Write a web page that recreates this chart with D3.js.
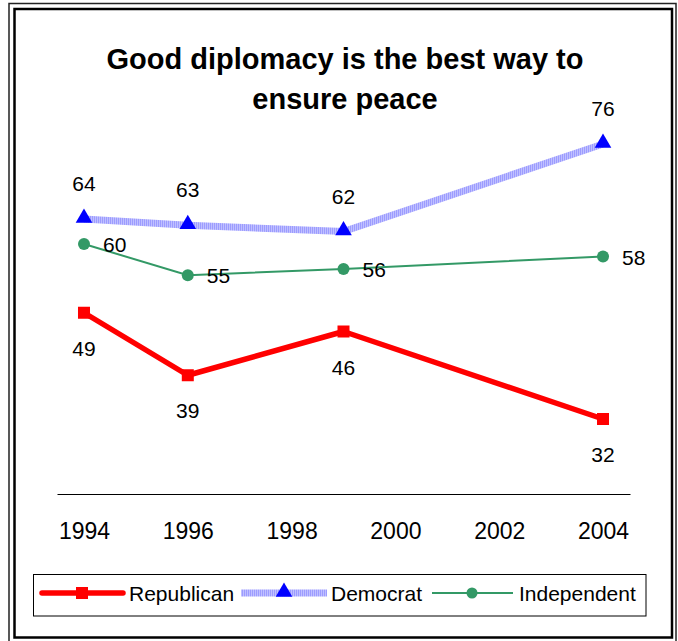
<!DOCTYPE html>
<html><head><meta charset="utf-8">
<script src="https://cdn.jsdelivr.net/npm/d3@7"></script>
<style>html,body{margin:0;padding:0;background:#fff;}svg{display:block;font-family:"Liberation Sans",Arial,sans-serif;}</style>
</head><body>
<script>
const years = [1994, 1996, 1999, 2004];
const republican = [49, 39, 46, 32];
const democrat = [64, 63, 62, 76];
const independent = [60, 55, 56, 58];
const tickYears = [1994, 1996, 1998, 2000, 2002, 2004];
const seriesNames = ["Republican", "Democrat", "Independent"];
const titleLines = ["Good diplomacy is the best way to", "ensure peace"];

const W = 678, H = 641;
const svg = d3.select("body").append("svg").attr("width", W).attr("height", H);

const defs = svg.append("defs");
const pat = defs.append("pattern").attr("id","demPat").attr("patternUnits","userSpaceOnUse").attr("width",2).attr("height",2);
pat.append("rect").attr("width",2).attr("height",2).attr("fill","#c0c0ff");
pat.append("rect").attr("width",1).attr("height",2).attr("fill","#9c9cff");

// frame
svg.append("rect").attr("x",9).attr("y",3.5).attr("width",667).attr("height",645).attr("fill","none").attr("stroke","#222").attr("stroke-width",1.5);
svg.append("rect").attr("x",14.5).attr("y",9).attr("width",657.5).attr("height",628.5).attr("fill","none").attr("stroke","#000").attr("stroke-width",2.5);

// title
svg.append("g").selectAll("text").data(titleLines).join("text")
  .attr("x",345).attr("y",(d,i)=>69+i*40).attr("text-anchor","middle")
  .attr("font-weight","bold").attr("font-size",29).attr("fill","#000").text(d=>d);

const x = d3.scaleLinear().domain([1993.48, 2004.52]).range([57, 630]);
const y = d3.scaleLinear().domain([20, 80]).range([494, 119]);

const ax = svg.append("g").attr("transform","translate(0,494)")
  .call(d3.axisBottom(x).tickValues(tickYears).tickFormat(d3.format("d")).tickSize(0).tickPadding(29));
ax.select(".domain").attr("stroke","#000").attr("stroke-width",1);
ax.selectAll("text").attr("font-size",23).attr("font-family","Liberation Sans, Arial, sans-serif").attr("fill","#000");

const line = d3.line().x(d=>x(d[0])).y(d=>y(d[1]));
const mk = arr => years.map((yr,i)=>[yr,arr[i]]);

svg.append("path").datum(mk(democrat)).attr("d",line).attr("fill","none").attr("stroke","url(#demPat)").attr("stroke-width",7);
svg.append("path").datum(mk(independent)).attr("d",line).attr("fill","none").attr("stroke","#339966").attr("stroke-width",2);
svg.append("path").datum(mk(republican)).attr("d",line).attr("fill","none").attr("stroke","#ff0000").attr("stroke-width",5.5).attr("stroke-linejoin","round");

const tri = d3.symbol().type(d3.symbolTriangle).size(120);
svg.append("g").selectAll("path").data(mk(democrat)).join("path")
  .attr("d",tri).attr("transform",d=>`translate(${x(d[0])},${y(d[1])-1})`).attr("fill","#0000ff");
svg.append("g").selectAll("circle").data(mk(independent)).join("circle")
  .attr("cx",d=>x(d[0])).attr("cy",d=>y(d[1])).attr("r",6).attr("fill","#339966");
svg.append("g").selectAll("rect").data(mk(republican)).join("rect")
  .attr("x",d=>x(d[0])-6).attr("y",d=>y(d[1])-6).attr("width",12).attr("height",12).attr("fill","#ff0000");

const lab = svg.append("g").attr("font-size",21).attr("fill","#000");
lab.selectAll(".d").data(mk(democrat)).join("text").attr("text-anchor","middle")
  .attr("x",d=>x(d[0])).attr("y",d=>y(d[1])-28).text(d=>d[1]);
lab.selectAll(".r").data(mk(republican)).join("text").attr("text-anchor","middle")
  .attr("x",d=>x(d[0])).attr("y",d=>y(d[1])+43).text(d=>d[1]);
lab.selectAll(".i").data(mk(independent)).join("text").attr("text-anchor","start")
  .attr("x",d=>x(d[0])+19).attr("y",d=>y(d[1])+8).text(d=>d[1]);

// legend
svg.append("rect").attr("x",33.5).attr("y",574.5).attr("width",612.5).attr("height",41.5).attr("fill","none").attr("stroke","#000").attr("stroke-width",1);
const leg = svg.append("g");
const ly = 593;
leg.append("line").attr("x1",42).attr("x2",123).attr("y1",ly).attr("y2",ly).attr("stroke","#ff0000").attr("stroke-width",5.5).attr("stroke-linecap","round");
leg.append("rect").attr("x",76).attr("y",ly-6).attr("width",12).attr("height",12).attr("fill","#ff0000");
leg.append("line").attr("x1",241).attr("x2",327).attr("y1",ly).attr("y2",ly).attr("stroke","url(#demPat)").attr("stroke-width",7);
leg.append("path").attr("d",tri).attr("transform",`translate(284,${ly-1})`).attr("fill","#0000ff");
leg.append("line").attr("x1",432).attr("x2",513).attr("y1",ly).attr("y2",ly).attr("stroke","#339966").attr("stroke-width",2);
leg.append("circle").attr("cx",472).attr("cy",ly).attr("r",5.5).attr("fill","#339966");
const lx = [129, 331, 519];
leg.selectAll("text").data(seriesNames).join("text").attr("x",(d,i)=>lx[i]).attr("y",ly+7.5)
  .attr("font-size",21).attr("fill","#000").text(d=>d);
</script>
</body></html>
